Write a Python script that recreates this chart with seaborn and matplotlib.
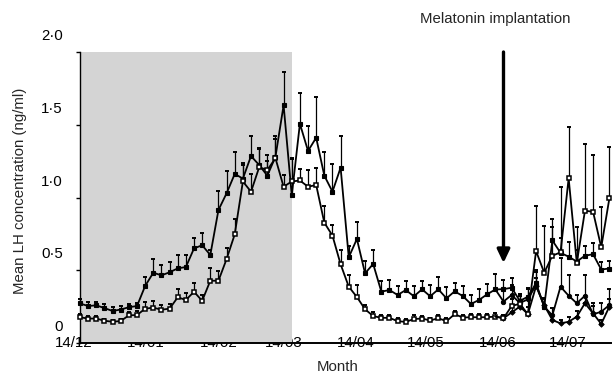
import numpy as np
import pandas as pd
import matplotlib
matplotlib.use("Agg")
import matplotlib.pyplot as plt
import matplotlib.transforms as mtransforms
import seaborn as sns

sns.set_theme(style="white")
plt.rcParams["font.family"] = ["Liberation Sans", "DejaVu Sans"]
FS = 10.8

# Blood samples were taken twice a week, starting 14 December
STEP_DAYS = 3.5

# Mean LH (ng/ml) and SEM before implantation (samples 0-51)
group1_lh = [0.272, 0.254, 0.259, 0.240, 0.220, 0.230, 0.246, 0.254, 0.392, 0.483,
             0.465, 0.486, 0.513, 0.522, 0.650, 0.672, 0.605, 0.914, 1.029, 1.162,
             1.130, 1.285, 1.223, 1.150, 1.280, 1.634, 1.015, 1.507, 1.320, 1.411,
             1.150, 1.040, 1.205, 0.589, 0.715, 0.479, 0.543, 0.353, 0.364, 0.330,
             0.364, 0.321, 0.369, 0.321, 0.369, 0.307, 0.355, 0.323, 0.268, 0.296,
             0.335, 0.368]
group1_sem = [0.030, 0.025, 0.025, 0.030, 0.025, 0.025, 0.025, 0.020, 0.060, 0.092,
              0.070, 0.070, 0.090, 0.080, 0.070, 0.085, 0.035, 0.130, 0.150, 0.150,
              0.110, 0.140, 0.110, 0.100, 0.120, 0.230, 0.250, 0.210, 0.170, 0.280,
              0.165, 0.190, 0.220, 0.080, 0.115, 0.085, 0.095, 0.070, 0.070, 0.060,
              0.065, 0.070, 0.060, 0.075, 0.085, 0.075, 0.060, 0.070, 0.060, 0.075,
              0.070, 0.105]
group2_lh = [0.177, 0.168, 0.168, 0.153, 0.146, 0.151, 0.190, 0.192, 0.236, 0.243,
             0.229, 0.236, 0.314, 0.296, 0.352, 0.290, 0.428, 0.428, 0.577, 0.747,
             1.110, 1.040, 1.208, 1.189, 1.270, 1.074, 1.110, 1.117, 1.074, 1.086,
             0.827, 0.738, 0.541, 0.387, 0.316, 0.232, 0.185, 0.173, 0.173, 0.150,
             0.145, 0.165, 0.168, 0.155, 0.170, 0.150, 0.198, 0.175, 0.177, 0.177,
             0.177, 0.182]
group2_sem = [0.020, 0.015, 0.015, 0.015, 0.015, 0.015, 0.025, 0.025, 0.048, 0.048,
              0.030, 0.030, 0.055, 0.050, 0.060, 0.040, 0.085, 0.070, 0.075, 0.103,
              0.110, 0.120, 0.130, 0.100, 0.150, 0.080, 0.160, 0.080, 0.115, 0.115,
              0.115, 0.075, 0.100, 0.080, 0.080, 0.030, 0.025, 0.020, 0.020, 0.020,
              0.020, 0.025, 0.020, 0.020, 0.025, 0.020, 0.020, 0.020, 0.020, 0.020,
              0.020, 0.025]

# After implantation (samples 52-65), each group split in two
group1a_lh = [0.370, 0.380, 0.290, 0.318, 0.410, 0.250, 0.705, 0.620, 0.593, 0.560,
              0.600, 0.610, 0.505, 0.512]
group1a_sem = [0.060, 0.070, 0.050, 0.050, 0.080, 0.050, 0.150, 0.100, 0.100, 0.080,
               0.070, 0.080, 0.050, 0.050]
group1b_lh = [0.285, 0.330, 0.275, 0.300, 0.400, 0.250, 0.190, 0.387, 0.325, 0.273,
              0.325, 0.197, 0.215, 0.261]
group1b_sem = [0.080, 0.070, 0.060, 0.080, 0.100, 0.050, 0.050, 0.200, 0.140, 0.060,
               0.140, 0.080, 0.060, 0.110]
group2a_lh = [0.170, 0.254, 0.270, 0.197, 0.632, 0.483, 0.600, 0.623, 1.132, 0.550,
              0.909, 0.902, 0.658, 0.994]
group2a_sem = [0.020, 0.050, 0.050, 0.100, 0.310, 0.320, 0.200, 0.450, 0.355, 0.250,
               0.460, 0.390, 0.280, 0.350]
group2b_lh = [0.170, 0.210, 0.250, 0.200, 0.390, 0.260, 0.158, 0.135, 0.146, 0.181,
              0.273, 0.204, 0.131, 0.250]
group2b_sem = [0.020, 0.040, 0.040, 0.050, 0.060, 0.050, 0.030, 0.020, 0.030, 0.040,
               0.040, 0.050, 0.030, 0.050]

month_labels = ["14/12", "14/01", "14/02", "14/03", "14/04", "14/05", "14/06", "14/07"]
month_days = [0, 31, 62, 90, 121, 151, 182, 212]
ytick_values = [0, 0.5, 1.0, 1.5, 2.0]
ytick_labels = ["0", "0\u00b75", "1\u00b70", "1\u00b75", "2\u00b70"]
short_day_end = 91          # end of the short-day period (shaded)
implant_day = 182

n_pre = len(group1_lh)
days_pre = np.arange(n_pre) * STEP_DAYS
days_post = np.arange(n_pre, n_pre + len(group1a_lh)) * STEP_DAYS

fig = plt.figure(figsize=(6.16, 3.74), dpi=100)
ax = fig.add_axes([80 / 616, 31 / 374, 531 / 616, 291 / 374])
ax.set_xlim(0, 228.2)
ax.set_ylim(0, 2.0)

ax.axvspan(0, short_day_end, color="#d4d4d4", lw=0, zorder=1)

styles = {
    "filled_sq": dict(marker="s", markersize=3.4, markerfacecolor="black",
                      markeredgecolor="black", markeredgewidth=0.8),
    "open_sq": dict(marker="s", markersize=3.0, markerfacecolor="white",
                    markeredgecolor="black", markeredgewidth=1.1),
    "dot": dict(marker="o", markersize=3.2, markerfacecolor="black",
                markeredgecolor="black", markeredgewidth=0.6),
    "diamond": dict(marker="D", markersize=2.8, markerfacecolor="black",
                    markeredgecolor="black", markeredgewidth=0.6),
}


def draw(x, y, sem, style, mark_from=0):
    df = pd.DataFrame({"day": x, "lh": y})
    sns.lineplot(data=df, x="day", y="lh", ax=ax, color="black", lw=1.3,
                 sort=False, estimator=None, markevery=list(range(mark_from, len(x))),
                 clip_on=False, zorder=3, **styles[style])
    xs = np.asarray(x)[mark_from:]
    ys = np.asarray(y)[mark_from:]
    ax.errorbar(xs, ys, yerr=[np.zeros(len(sem)), sem], fmt="none", ecolor="black",
                elinewidth=0.9, capsize=1.7, capthick=1.4, zorder=2.5, clip_on=False)


draw(days_pre, group1_lh, group1_sem, "filled_sq")
draw(days_pre, group2_lh, group2_sem, "open_sq")

x_post = np.concatenate([[days_pre[-1]], days_post])
draw(x_post, [group1_lh[-1]] + group1b_lh, group1b_sem, "dot", mark_from=1)
draw(x_post, [group2_lh[-1]] + group2b_lh, group2b_sem, "diamond", mark_from=1)
draw(x_post, [group1_lh[-1]] + group1a_lh, group1a_sem, "filled_sq", mark_from=1)
draw(x_post, [group2_lh[-1]] + group2a_lh, group2a_sem, "open_sq", mark_from=1)

# Axes frame
for side in ("top", "right"):
    ax.spines[side].set_visible(False)
ax.spines["left"].set_color("black")
ax.spines["left"].set_linewidth(1.0)
ax.spines["bottom"].set_color("black")
ax.spines["bottom"].set_linewidth(1.4)
ax.set_xticks([])
ax.set_yticks(ytick_values)
ax.set_yticklabels([])
ax.tick_params(axis="y", direction="out", length=3, width=1.0, color="black", left=True)
ax.set_xlabel("")
ax.set_ylabel("")

# Tick labels
ylab_tr = mtransforms.blended_transform_factory(ax.transAxes, ax.transData) + \
    mtransforms.ScaledTranslation(-0.17, 0.16, fig.dpi_scale_trans)
for v, t in zip(ytick_values, ytick_labels):
    ax.text(0, v, t, transform=ylab_tr, ha="right", va="center", fontsize=FS,
            color="black", clip_on=False)

xlab_tr = mtransforms.blended_transform_factory(ax.transData, ax.transAxes) + \
    mtransforms.ScaledTranslation(-0.06, -0.04, fig.dpi_scale_trans)
for d, t in zip(month_days, month_labels):
    ax.text(d, 0, t, transform=xlab_tr, ha="center", va="baseline", fontsize=FS,
            color="black", clip_on=False, zorder=0.5)

# Implantation arrow
ax.annotate("", xy=(implant_day, 0.55), xytext=(implant_day, 2.0),
            arrowprops=dict(arrowstyle="-|>,head_length=0.8,head_width=0.38",
                            color="black", lw=2.4, shrinkA=0, shrinkB=0,
                            mutation_scale=10),
            annotation_clip=False, zorder=4)

fig.text(495.5 / 616, 1 - 19 / 374, "Melatonin implantation", ha="center",
         va="center", fontsize=FS)
fig.text(20 / 616, 1 - 191 / 374, "Mean LH concentration (ng/ml)", rotation=90,
         ha="center", va="center", fontsize=FS)
fig.text(338 / 616, 1 - 367 / 374, "Month", ha="center", va="center", fontsize=FS)

fig.savefig("out.png", dpi=100)
